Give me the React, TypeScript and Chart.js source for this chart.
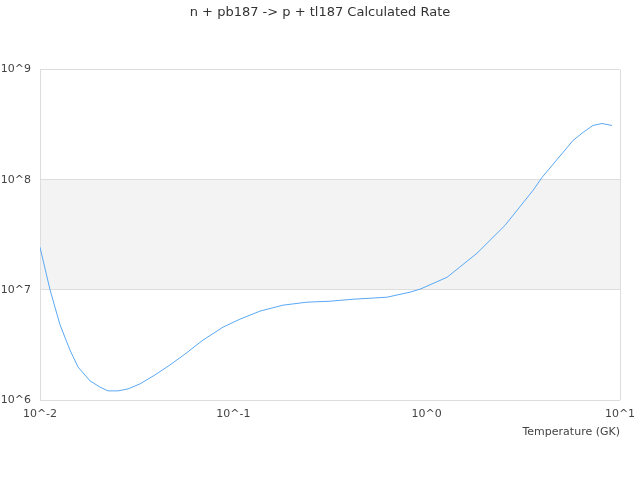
import { useEffect, useRef } from "react";
import { Chart, registerables } from "chart.js";

Chart.register(...registerables);

// temperature in GK
const temperatures = [
    0.01, 0.01127, 0.01269, 0.01429, 0.01574, 0.01815, 0.02043, 0.02248, 0.02532, 0.02851,
    0.0329, 0.03934, 0.04699, 0.0562, 0.06966, 0.08849, 0.1082, 0.1374, 0.1806, 0.2404,
    0.3162, 0.4159, 0.6237, 0.82, 0.9236, 1.274, 1.821, 2.542, 3.548, 3.951,
    5.715, 6.439, 7.245, 8.07, 9.09,
];

const rates = [
    2.44e7, 1.0e7, 4.82e6, 2.84e6, 1.99e6, 1.49e6, 1.31e6, 1.21e6, 1.21e6, 1.26e6,
    1.4e6, 1.69e6, 2.08e6, 2.61e6, 3.5e6, 4.59e6, 5.42e6, 6.41e6, 7.26e6, 7.73e6,
    7.89e6, 8.22e6, 8.58e6, 9.53e6, 1.014e7, 1.3e7, 2.15e7, 3.85e7, 8.0e7, 1.05e8,
    2.27e8, 2.69e8, 3.11e8, 3.24e8, 3.11e8,
];

const xTicks = [0.01, 0.1, 1, 10];
const yTicks = [1e6, 1e7, 1e8, 1e9];
// shaded band between these two rates
const bandRange = [1e7, 1e8];

const textColor = "#444444";
const gridColor = "#dddddd";
const fontFamily = "'DejaVu Sans', sans-serif";

const powLabel = (v: number) => "10^" + Math.round(Math.log10(v));

const bandPlugin = {
    id: "band",
    beforeDraw(chart: Chart) {
        const { ctx, chartArea } = chart;
        const y = chart.scales.y;
        const top = y.getPixelForValue(bandRange[1]);
        const bottom = y.getPixelForValue(bandRange[0]);
        ctx.save();
        ctx.fillStyle = "#f3f3f3";
        ctx.fillRect(chartArea.left, top, chartArea.right - chartArea.left, bottom - top);
        ctx.restore();
    },
};

export default function App() {
    const canvasRef = useRef<HTMLCanvasElement>(null);
    const chartRef = useRef<Chart | null>(null);

    useEffect(() => {
        if (!canvasRef.current) return;
        if (chartRef.current) chartRef.current.destroy();

        chartRef.current = new Chart(canvasRef.current, {
            type: "line",
            data: {
                datasets: [
                    {
                        label: "Rate",
                        data: temperatures.map((t, i) => ({ x: t, y: rates[i] })),
                        borderColor: "#5aa8f5",
                        borderWidth: 1,
                        pointRadius: 0,
                        tension: 0,
                        fill: false,
                    },
                ],
            },
            options: {
                animation: false,
                responsive: true,
                maintainAspectRatio: false,
                // no outer padding so the title stays centred on the canvas;
                // the right gap comes from the x scale's paddingRight instead
                layout: { padding: 0 },
                plugins: {
                    legend: { display: false },
                    tooltip: { enabled: false },
                    title: {
                        display: true,
                        text: "n + pb187 -> p + tl187 Calculated Rate",
                        color: "#333333",
                        font: { family: fontFamily, size: 13, weight: "normal" },
                        padding: { top: 5, bottom: 49 },
                    },
                },
                scales: {
                    x: {
                        type: "logarithmic",
                        min: 0.01,
                        max: 10,
                        afterBuildTicks: (scale) => {
                            scale.ticks = xTicks.map((v) => ({ value: v }));
                        },
                        afterFit: (scale) => {
                            scale.height = 80;
                            scale.paddingRight = 20;
                            scale.paddingLeft = 0;
                        },
                        grid: {
                            drawTicks: false,
                            color: (ctx) =>
                                ctx.index === 0 || ctx.index === xTicks.length - 1 ? gridColor : "transparent",
                        },
                        border: { display: false },
                        ticks: {
                            color: textColor,
                            font: { family: fontFamily, size: 11 },
                            padding: 8,
                            maxRotation: 0,
                            autoSkip: false,
                            callback: (v) => powLabel(Number(v)),
                        },
                        title: {
                            display: true,
                            text: "Temperature (GK)",
                            align: "end",
                            color: textColor,
                            font: { family: fontFamily, size: 11 },
                            padding: { top: 0, bottom: 41 },
                        },
                    },
                    y: {
                        type: "logarithmic",
                        min: 1e6,
                        max: 1e9,
                        afterBuildTicks: (scale) => {
                            scale.ticks = yTicks.map((v) => ({ value: v }));
                        },
                        afterFit: (scale) => {
                            scale.width = 40;
                        },
                        grid: { drawTicks: false, color: gridColor },
                        border: { display: false },
                        ticks: {
                            color: textColor,
                            font: { family: fontFamily, size: 11 },
                            padding: 9,
                            autoSkip: false,
                            callback: (v) => powLabel(Number(v)),
                        },
                    },
                },
            },
            plugins: [bandPlugin],
        });

        return () => {
            chartRef.current?.destroy();
            chartRef.current = null;
        };
    }, []);

    return (
        <div style={{ position: "fixed", left: 0, top: 0, width: "640px", height: "480px", background: "#ffffff" }}>
            <canvas ref={canvasRef} role="img" aria-label="Calculated rate versus temperature, log-log" />
        </div>
    );
}
